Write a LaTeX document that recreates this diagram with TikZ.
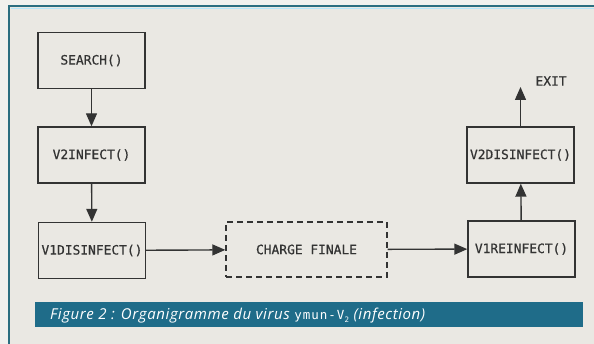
\documentclass[tikz,border=0pt]{standalone}
\usepackage{fontspec}
\setmainfont{Open Sans}
\newfontfamily\boxfont[FakeBold=0.6]{DejaVu Sans Mono}
\newfontfamily\codefont[LetterSpace=8]{DejaVu Sans Mono}
\newfontfamily\capfont[LetterSpace=4]{Open Sans}
\usetikzlibrary{arrows.meta}

\definecolor{pagebg}{HTML}{F1F1EE}
\definecolor{panelbg}{HTML}{EAE8E3}
\definecolor{frameteal}{HTML}{2B6E80}
\definecolor{barteal}{HTML}{1F6C89}
\definecolor{ink}{HTML}{333333}

\tikzset{
  fbox/.style={draw=ink, line width=1.4pt, minimum width=107pt, minimum height=56pt,
    inner sep=0pt, font=\boxfont\fontsize{12.9}{15}\selectfont, text=ink},
  dbox/.style={fbox, dash pattern=on 6pt off 4pt, minimum width=161pt, minimum height=55pt},
  flow/.style={draw=ink, line width=1.4pt, -{Triangle[length=13pt, width=11pt]}},
}

\begin{document}
\begin{tikzpicture}[x=1pt, y=-1pt]
  \useasboundingbox (0,0) rectangle (594,344);
  % page and panel
  \fill[pagebg] (0,0) rectangle (594,344);
  \fill[panelbg] (9,6) rectangle (594,344);
  \draw[white!70!cyan, line width=1pt] (11,9) -- (594,9);
  \draw[frameteal, line width=2pt] (9,344) -- (9,6) -- (594,6);

  % flow boxes
  \node[fbox] (search)  at (91.5,60.5)  {SEARCH()};
  \node[fbox] (v2inf)   at (91.5,155)   {V2INFECT()};
  \node[fbox] (v1dis)   at (92,250.5)   {V1DISINFECT()};
  \node[dbox] (charge)  at (306.5,249.5) {CHARGE FINALE};
  \node[fbox] (v1rein)  at (521.5,249)  {V1REINFECT()};
  \node[fbox] (v2dis)   at (520.5,155)  {V2DISINFECT()};
  \coordinate (exit) at (520.5,87);
  \node[font=\boxfont\fontsize{12.9}{15}\selectfont, text=ink, anchor=west] (exitlbl) at (532,81) {EXIT};

  % connectors
  \draw[flow] (search) -- (v2inf);
  \draw[flow] (v2inf) -- (v1dis);
  \draw[flow] (v1dis) -- (charge);
  \draw[flow] (charge) -- (v1rein);
  \draw[flow] (v1rein) -- (v2dis);
  \draw[flow] (v2dis) -- (exit);

  % caption bar
  \fill[barteal] (35,302) rectangle (583,327);
  \node[anchor=base west, inner sep=0pt, text=white,
        font=\capfont\itshape\fontsize{15}{17}\selectfont] (caption) at (50,320)
    {Figure 2 : Organigramme du virus {\upshape\codefont\fontsize{12.5}{15}\selectfont ymun-V\raisebox{-0.3ex}{\fontsize{7.5}{9}\selectfont 2}} (infection)};
\end{tikzpicture}
\end{document}
